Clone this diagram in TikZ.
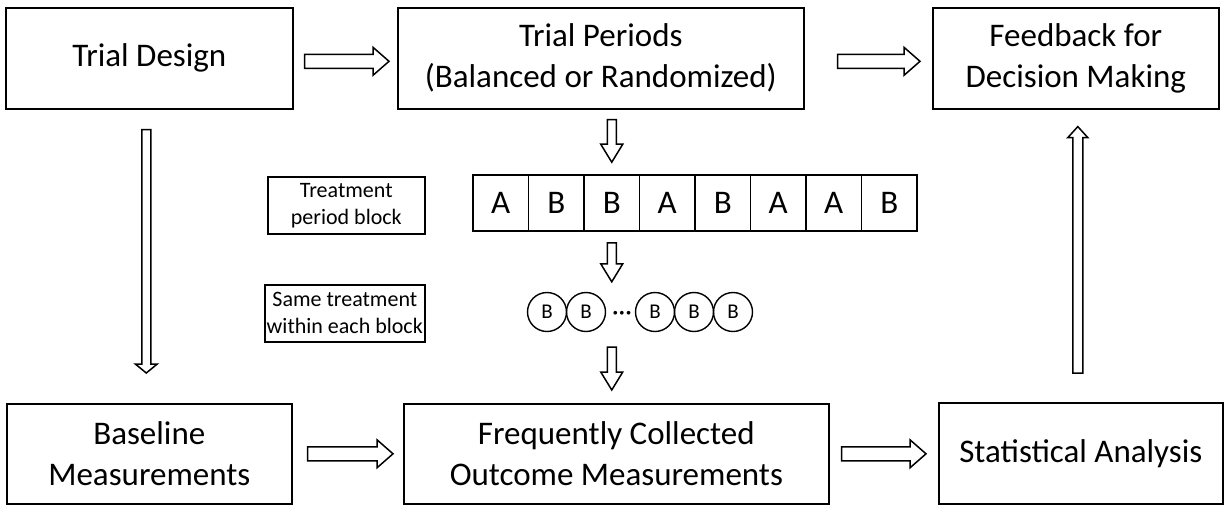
\documentclass[tikz,border=0pt]{standalone}
\usepackage{fontspec}
\setmainfont{Carlito}
\usetikzlibrary{calc}
\newcommand\harr[2]{%
 \draw[arrline] let \p1=(#1),\p2=(#2) in (\x1,\y1+7) -- (\x2-16,\y1+7) -- (\x2-16,\y1+14) -- (\x2,\y1) -- (\x2-16,\y1-14) -- (\x2-16,\y1-7) -- (\x1,\y1-7) -- cycle;}
\newcommand\varr[5]{%
 \draw[arrline] let \p1=(#1),\p2=(#2),\n1={sign(\y2-\y1)} in
 (\x1-#3,\y1) -- (\x1-#3,\y2-\n1*#5) -- (\x1-#4,\y2-\n1*#5) -- (\x1,\y2) -- (\x1+#4,\y2-\n1*#5) -- (\x1+#3,\y2-\n1*#5) -- (\x1+#3,\y1) -- cycle;}
\begin{document}
\begin{tikzpicture}[x=1pt,y=1pt,
  box/.style={draw, line width=1.6pt, inner sep=0pt, align=center, anchor=north west,
    font=\fontsize{33}{41}\selectfont},
  smallbox/.style={draw, line width=1.6pt, inner sep=0pt, align=center, anchor=north west,
    font=\fontsize{22}{27}\selectfont},
  cell/.style={draw, line width=1.6pt, inner sep=0pt, minimum width=55.5, minimum height=56,
    font=\fontsize{33}{40}\selectfont},
  circ/.style={draw, circle, line width=1.4pt, inner sep=0pt, minimum size=39,
    font=\fontsize{21}{24}\selectfont},
  arrline/.style={draw, line width=1.5pt, line join=miter}]
\useasboundingbox (0,0) rectangle (1225,-504);
% main boxes
\node[box, minimum width=287, minimum height=101] (td) at (5,-7) {Trial Design};
\node[box, minimum width=406, minimum height=101] (tp) at (397,-7) {Trial Periods\\(Balanced or Randomized)};
\node[box, minimum width=286, minimum height=101] (fb) at (932,-7) {Feedback for\\Decision Making};
\node[box, minimum width=285, minimum height=100] (bm) at (6,-403) {Baseline\\Measurements};
\node[box, minimum width=425, minimum height=100] (fc) at (403,-403) {Frequently Collected\\Outcome Measurements};
\node[box, minimum width=284, minimum height=101] (sa) at (938,-402) {Statistical Analysis};
% small label boxes
\node[smallbox, minimum width=157, minimum height=57] (tpb) at (267,-176) {Treatment\\period block};
\node[smallbox, minimum width=160, minimum height=57] (stw) at (264,-284) {Same treatment\\within each block};
% cells
\foreach \l [count=\i] in {A,B,B,A,B,A,A,B}
  \node[cell] (c\i) at ({473+55.5*(\i-1)+27.75},-203) {\l};
% circles
\node[circ] (b1) at (547,-312) {B};
\node[circ] (b2) at (586,-312) {B};
\node[font=\fontsize{26}{26}\selectfont, inner sep=0pt] (dots) at (622,-316) {···};
\node[circ] (b3) at (655,-312) {B};
\node[circ] (b4) at (694,-312) {B};
\node[circ] (b5) at (733,-312) {B};
% arrow end points
\coordinate (h1s) at ($(td.east)+(11,-3)$);
\coordinate (h1e) at ($(tp.west)+(-8,-3)$);
\coordinate (h2s) at ($(tp.east)+(33,-3)$);
\coordinate (h2e) at ($(fb.west)+(-12,-3)$);
\coordinate (h3s) at ($(bm.east)+(15,0)$);
\coordinate (h3e) at ($(fc.west)+(-10,0)$);
\coordinate (h4s) at ($(fc.east)+(12,0)$);
\coordinate (h4e) at ($(sa.west)+(-12,0)$);
\coordinate (v1s) at ($(td.south)+(-3,-20)$);
\coordinate (v1e) at ($(bm.north)+(-3,30)$);
\coordinate (v2s) at ($(sa.north)+(-3,29)$);
\coordinate (v2e) at ($(fb.south)+(2,-17)$);
\coordinate (m1s) at ($(c3.north |- tp.south)+(0,-10)$);
\coordinate (m1e) at ($(c3.north)+(0,12)$);
\coordinate (m2s) at ($(c3.south)+(0,-11)$);
\coordinate (m2e) at ($(c3.south |- b1.north)+(0,10)$);
\coordinate (m3s) at ($(c3.south |- b1.south)+(0,-15)$);
\coordinate (m3e) at ($(c3.south |- fc.north)+(0,13)$);
% arrows
\harr{h1s}{h1e}
\harr{h2s}{h2e}
\harr{h3s}{h3e}
\harr{h4s}{h4e}
\varr{v1s}{v1e}{4.5}{11}{9}
\varr{v2s}{v2e}{5}{10}{11}
\varr{m1s}{m1e}{4.5}{11}{18}
\varr{m2s}{m2e}{4.5}{11}{18}
\varr{m3s}{m3e}{4.5}{11}{18}
\end{tikzpicture}
\end{document}
